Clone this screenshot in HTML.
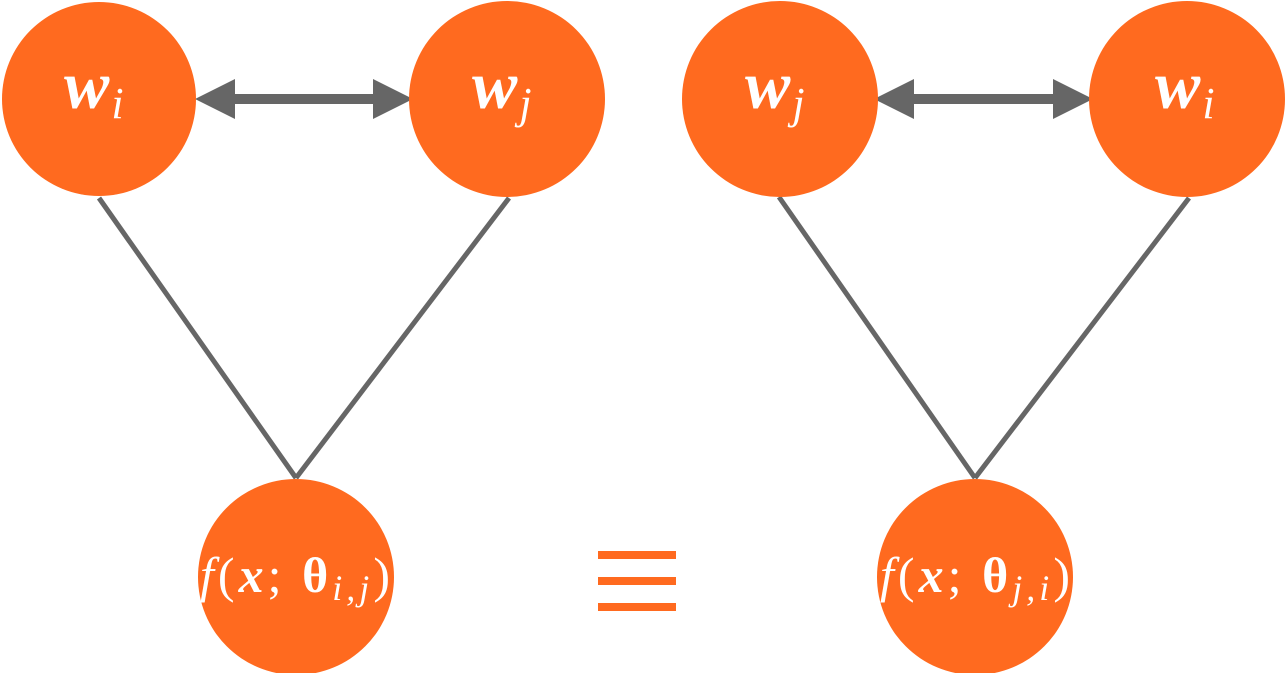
<!DOCTYPE html>
<html><head><meta charset="utf-8"><style>
html,body{margin:0;padding:0;background:#fff;width:1287px;height:673px;overflow:hidden}
svg text{font-family:"Liberation Serif",serif;fill:#fff;font-style:italic}
</style></head><body>
<svg width="1287" height="673" viewBox="0 0 1287 673">
<defs>
<marker id="ah" markerWidth="4" markerHeight="4" refX="3" refY="2" orient="auto-start-reverse" markerUnits="strokeWidth"><path d="M0,0 L4,2 L0,4 Z" fill="#666"/></marker>
</defs>
<g>
<line x1="99" y1="198" x2="296" y2="478" stroke="#666" stroke-width="5"/>
<line x1="509" y1="198" x2="296" y2="478" stroke="#666" stroke-width="5"/>
<line x1="205" y1="99" x2="403" y2="99" stroke="#666" stroke-width="10" marker-start="url(#ah)" marker-end="url(#ah)"/>
<circle cx="99" cy="99" r="97" fill="#FF6A1F"/>
<circle cx="507" cy="99" r="98" fill="#FF6A1F"/>
<circle cx="296" cy="577" r="98" fill="#FF6A1F"/>
<text x="64" y="108" font-size="68" font-weight="bold">w<tspan font-size="44" dx="2" dy="10" font-weight="normal">i</tspan></text>
<text x="472" y="108" font-size="68" font-weight="bold">w<tspan font-size="44" dx="2" dy="10" font-weight="normal">j</tspan></text>
<text x="200" y="592" font-size="50" textLength="190" lengthAdjust="spacing">f<tspan font-style="normal">(</tspan><tspan font-weight="bold">x</tspan><tspan font-style="normal">; </tspan><tspan font-weight="bold" font-style="normal">θ</tspan><tspan font-size="36" dy="8">i,j</tspan><tspan font-style="normal" dy="-8">)</tspan></text>
</g>
<g>
<rect x="598" y="551" width="78" height="8" fill="#FF6A1F"/>
<rect x="598" y="577" width="78" height="8" fill="#FF6A1F"/>
<rect x="598" y="603" width="78" height="8" fill="#FF6A1F"/>
</g>
<g>
<line x1="779" y1="197" x2="975" y2="478" stroke="#666" stroke-width="5"/>
<line x1="1189" y1="198" x2="975" y2="478" stroke="#666" stroke-width="5"/>
<line x1="884" y1="99" x2="1083" y2="99" stroke="#666" stroke-width="10" marker-start="url(#ah)" marker-end="url(#ah)"/>
<circle cx="780" cy="99" r="98" fill="#FF6A1F"/>
<circle cx="1187" cy="99" r="98" fill="#FF6A1F"/>
<circle cx="975" cy="577" r="98" fill="#FF6A1F"/>
<text x="745" y="108" font-size="68" font-weight="bold">w<tspan font-size="44" dx="2" dy="10" font-weight="normal">j</tspan></text>
<text x="1155" y="108" font-size="68" font-weight="bold">w<tspan font-size="44" dx="2" dy="10" font-weight="normal">i</tspan></text>
<text x="880" y="592" font-size="50" textLength="190" lengthAdjust="spacing">f<tspan font-style="normal">(</tspan><tspan font-weight="bold">x</tspan><tspan font-style="normal">; </tspan><tspan font-weight="bold" font-style="normal">θ</tspan><tspan font-size="36" dy="8">j,i</tspan><tspan font-style="normal" dy="-8">)</tspan></text>
</g>
</svg>
</body></html>
